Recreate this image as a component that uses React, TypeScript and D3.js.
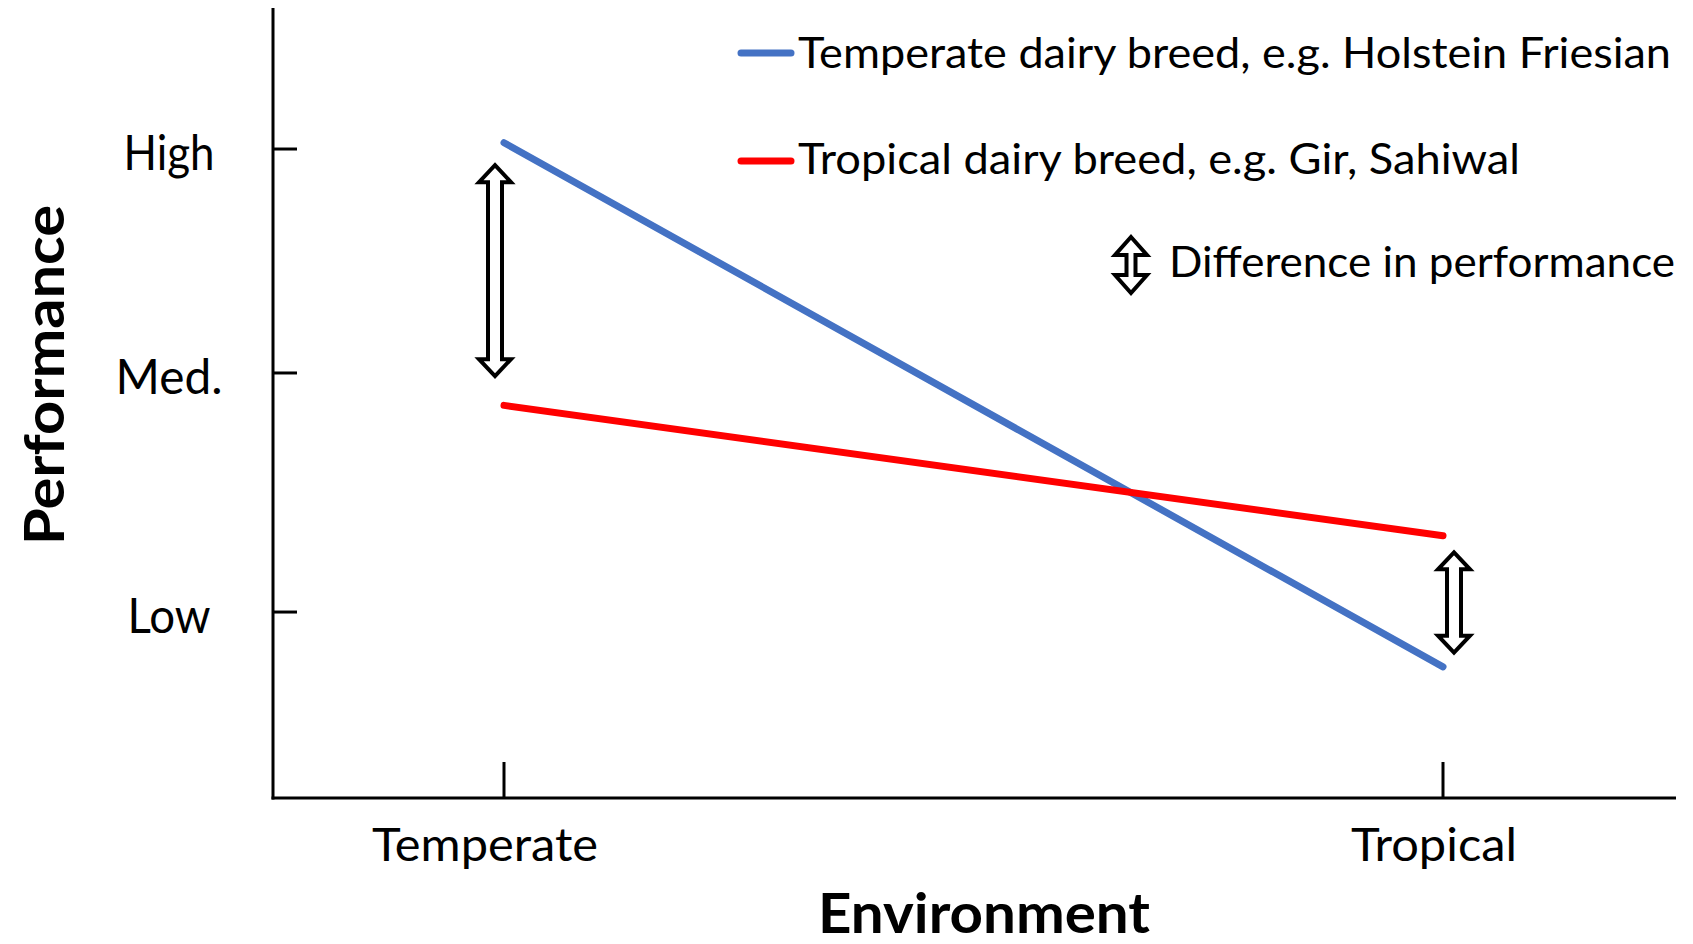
import React from "react";
import * as d3 from "d3";

const environments = ["Temperate", "Tropical"];
const temperateBreed = [82.95, 16.6];
const tropicalBreed = [49.7, 33.2];
const yTickValues = [23.54, 53.8, 82.15];
const yTickLabels = ["Low", "Med.", "High"];
const diffTop = [80.1, 31.1];
const diffBottom = [53.4, 18.4];
const legendLabels = [
  "Temperate dairy breed, e.g. Holstein Friesian",
  "Tropical dairy breed, e.g. Gir, Sahiwal",
];
const diffLabel = "Difference in performance";

const W = 1693;
const H = 944;
const FONT = "Lato, 'Open Sans', sans-serif";
const BLUE = "#4472C4";
const RED = "#FF0000";

function arrowPath(cx: number, yTop: number, yBot: number, hw: number, hh: number, sw: number) {
  const p = d3.path();
  p.moveTo(cx, yTop);
  p.lineTo(cx + hw, yTop + hh);
  p.lineTo(cx + sw, yTop + hh);
  p.lineTo(cx + sw, yBot - hh);
  p.lineTo(cx + hw, yBot - hh);
  p.lineTo(cx, yBot);
  p.lineTo(cx - hw, yBot - hh);
  p.lineTo(cx - sw, yBot - hh);
  p.lineTo(cx - sw, yTop + hh);
  p.lineTo(cx - hw, yTop + hh);
  p.closePath();
  return p.toString();
}

export default function App() {
  const x = d3.scalePoint<string>().domain(environments).range([504, 1443]);
  const y = d3.scaleLinear().domain([0, 100]).range([798, 8]);
  const axisX0 = 273;
  const axisY0 = y(0);

  const line = d3
    .line<number>()
    .x((_, i) => x(environments[i]) as number)
    .y((d) => y(d));

  const series = [
    { values: temperateBreed, color: BLUE },
    { values: tropicalBreed, color: RED },
  ];

  const labelWidths: Record<string, number> = {
    High: 91,
    "Med.": 107,
    Low: 83,
    Temperate: 226,
    Tropical: 166,
  };

  return (
    <>
      <style>{`body{margin:0;background:#fff}`}</style>
      <svg width={W} height={H} style={{ display: "block" }} fontFamily={FONT}>
        <rect width={W} height={H} fill="#fff" />
        {/* axes */}
        <line x1={axisX0} y1={y(100)} x2={axisX0} y2={axisY0 + 1.5} stroke="#000" strokeWidth={3} />
        <line x1={axisX0 - 1.5} y1={axisY0} x2={1676} y2={axisY0} stroke="#000" strokeWidth={3} />
        {yTickValues.map((v, i) => (
          <g key={"yt" + i}>
            <line x1={axisX0} x2={axisX0 + 24} y1={y(v)} y2={y(v)} stroke="#000" strokeWidth={3} />
            <text
              x={169}
              y={y(v) + 21}
              textAnchor="middle"
              fontSize={47.5}
              textLength={labelWidths[yTickLabels[i]]}
              lengthAdjust="spacingAndGlyphs"
              fill="#000"
            >
              {yTickLabels[i]}
            </text>
          </g>
        ))}
        {environments.map((e, i) => (
          <g key={"xt" + e}>
            <line x1={x(e)} x2={x(e)} y1={axisY0 - 36} y2={axisY0} stroke="#000" strokeWidth={3} />
            <text
              x={(x(e) as number) + (i === 0 ? -19 : -9)}
              y={axisY0 + 63}
              textAnchor="middle"
              fontSize={46}
              textLength={labelWidths[e]}
              lengthAdjust="spacingAndGlyphs"
              fill="#000"
            >
              {e}
            </text>
          </g>
        ))}
        {/* axis titles */}
        <text
          x={818}
          y={933}
          fontSize={54.5}
          fontWeight="bold"
          textLength={332}
          lengthAdjust="spacingAndGlyphs"
          fill="#000"
        >
          Environment
        </text>
        <text
          transform="translate(64,545) rotate(-90)"
          fontSize={54.5}
          fontWeight="bold"
          textLength={340}
          lengthAdjust="spacingAndGlyphs"
          fill="#000"
        >
          Performance
        </text>
        {/* data lines */}
        {series.map((s, i) => (
          <path
            key={"s" + i}
            d={line(s.values) as string}
            fill="none"
            stroke={s.color}
            strokeWidth={7}
            strokeLinecap="round"
          />
        ))}
        {/* difference arrows */}
        {environments.map((e, i) => (
          <path
            key={"arr" + e}
            d={arrowPath((x(e) as number) + (i === 0 ? -9 : 11), y(diffTop[i]), y(diffBottom[i]), 16, 17, 7)}
            fill="#fff"
            stroke="#000"
            strokeWidth={4}
          />
        ))}
        {/* legend */}
        {legendLabels.map((lab, i) => {
          const ly = i === 0 ? 53 : 161;
          return (
            <g key={"lg" + i}>
              <line x1={741} x2={791} y1={ly} y2={ly} stroke={series[i].color} strokeWidth={7} strokeLinecap="round" />
              <text
                x={798}
                y={ly + (i === 0 ? 15 : 13)}
                fontSize={42}
                textLength={i === 0 ? 873 : 722}
                lengthAdjust="spacingAndGlyphs"
                fill="#000"
              >
                {lab}
              </text>
            </g>
          );
        })}
        <path d={arrowPath(1131, 237, 293, 16, 18, 4.5)} fill="#fff" stroke="#000" strokeWidth={4} />
        <text x={1169} y={277} fontSize={42} textLength={506} lengthAdjust="spacingAndGlyphs" fill="#000">
          {diffLabel}
        </text>
      </svg>
    </>
  );
}
